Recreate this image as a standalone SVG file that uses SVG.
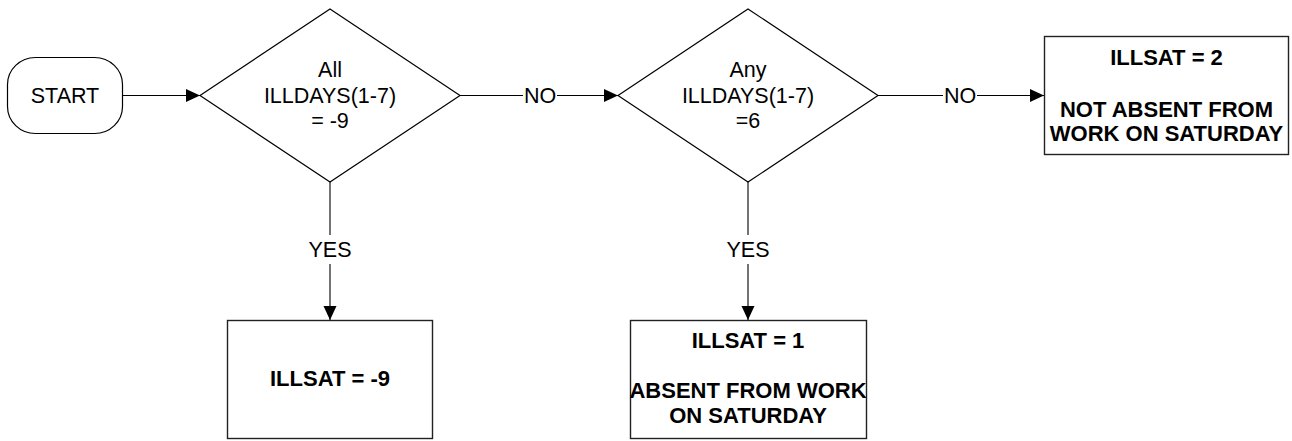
<svg xmlns="http://www.w3.org/2000/svg" width="1292" height="441" viewBox="0 0 1292 441">
  <defs>
    <marker id="arrow" markerUnits="userSpaceOnUse" markerWidth="15" markerHeight="14" refX="14" refY="6.5" orient="auto">
      <path d="M0,0 L14,6.5 L0,13 z" fill="#000"/>
    </marker>
  </defs>
  <style>
    .shape { fill: #fff; stroke: #000; stroke-width: 1.2; }
    .box { fill: #fff; stroke: #222; stroke-width: 1.4; }
    .conn { fill: none; stroke: #000; stroke-width: 1.1; }
    .t { font-family: "Liberation Sans", Arial, sans-serif; font-size: 21.5px; fill: #000; text-anchor: middle; }
    .b { font-weight: bold; font-size: 22px; }
  </style>
  <rect width="1292" height="441" fill="#fff"/>

  <g id="start">
    <rect class="shape" x="7.5" y="57.5" width="115" height="76" rx="28" ry="27"/>
    <text class="t" x="65" y="102.5">START</text>
  </g>

  <g id="decision1">
    <polygon class="shape" points="330,9 460,95.5 330,182 200,95.5"/>
    <text class="t" x="330" y="77">All</text>
    <text class="t" x="330" y="103">ILLDAYS(1-7)</text>
    <text class="t" x="330" y="128">= -9</text>
  </g>

  <g id="decision2">
    <polygon class="shape" points="748,9 878,95.5 748,182 618,95.5"/>
    <text class="t" x="748" y="77">Any</text>
    <text class="t" x="748" y="103">ILLDAYS(1-7)</text>
    <text class="t" x="748" y="128">=6</text>
  </g>

  <g id="result-neg9">
    <rect class="box" x="227.5" y="320.5" width="205" height="118"/>
    <text class="t b" x="330" y="386">ILLSAT = -9</text>
  </g>

  <g id="result-1">
    <rect class="box" x="630.5" y="320.5" width="236" height="118"/>
    <text class="t b" x="748" y="348">ILLSAT = 1</text>
    <text class="t b" x="748" y="398">ABSENT FROM WORK</text>
    <text class="t b" x="748" y="423">ON SATURDAY</text>
  </g>

  <g id="result-2">
    <rect class="box" x="1044.5" y="36.5" width="244" height="118"/>
    <text class="t b" x="1166.5" y="64.5">ILLSAT = 2</text>
    <text class="t b" x="1166.5" y="117">NOT ABSENT FROM</text>
    <text class="t b" x="1166.5" y="140.5">WORK ON SATURDAY</text>
  </g>

  <g id="connectors">
    <line class="conn" x1="123" y1="95.5" x2="200" y2="95.5" marker-end="url(#arrow)"/>

    <line class="conn" x1="460" y1="95.5" x2="523" y2="95.5"/>
    <line class="conn" x1="557" y1="95.5" x2="618" y2="95.5" marker-end="url(#arrow)"/>
    <text class="t" x="540" y="103">NO</text>

    <line class="conn" x1="878" y1="95.5" x2="943" y2="95.5"/>
    <line class="conn" x1="977" y1="95.5" x2="1044" y2="95.5" marker-end="url(#arrow)"/>
    <text class="t" x="960" y="103">NO</text>

    <line class="conn" x1="330" y1="182" x2="330" y2="235"/>
    <line class="conn" x1="330" y1="264" x2="330" y2="320" marker-end="url(#arrow)"/>
    <text class="t" x="330" y="257">YES</text>

    <line class="conn" x1="748" y1="182" x2="748" y2="235"/>
    <line class="conn" x1="748" y1="264" x2="748" y2="320" marker-end="url(#arrow)"/>
    <text class="t" x="748" y="257">YES</text>
  </g>
</svg>
